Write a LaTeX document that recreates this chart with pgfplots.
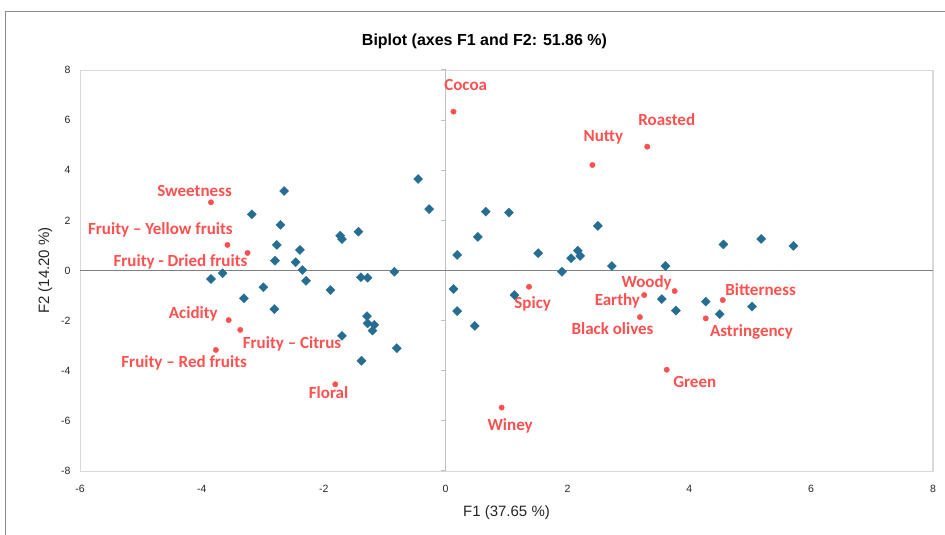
\documentclass[border=0pt]{standalone}
\usepackage{fontspec}
\setmainfont{Liberation Sans}
\newfontfamily\carlito{Carlito}
\usepackage{pgfplots}
\pgfplotsset{compat=1.18}
\definecolor{obsblue}{RGB}{38,110,145}
\definecolor{varred}{RGB}{255,80,80}
\definecolor{frame}{RGB}{217,217,217}
\begin{document}
\begin{tikzpicture}[x=1pt,y=1pt]
% picture is 945 x 535 units, axis corner at (0,0)
\clip (-80,-64) rectangle (865,471);
\draw[black!45,line width=1pt] (-74,-80) rectangle (880,459);
\begin{axis}[
    at={(0pt,0pt)}, anchor=south west,
    width=853pt, height=401pt, scale only axis,
    xmin=-6, xmax=8, ymin=-8, ymax=8,
    xtick={-6,-4,...,8}, ytick={-8,-6,...,8},
    major tick length=0pt,
    axis line style={frame},
    tick label style={font=\fontsize{10.5}{12}\selectfont, text=black!85},
    /pgf/number format/assume math mode=true,
    xticklabel style={yshift=-11pt},
    yticklabel style={xshift=-6pt},
    xlabel={F1 (37.65 \%)}, ylabel={F2 (14.20 \%)},
    label style={font=\fontsize{15}{17}\selectfont, text=black!85},
    xlabel style={yshift=-6pt},
    ylabel style={yshift=2pt},
    title={Biplot (axes F1 and F2: 51.86 \%)},
    title style={font=\fontsize{16}{18}\selectfont\bfseries, yshift=12pt, xshift=-22pt},
    clip=false,
]
\draw[frame, line width=2.5pt] (axis cs:8,-8) -- (axis cs:8,8);
\draw[black!25, line width=1.6pt] (axis cs:0,-8) -- (axis cs:0,8);
\pgfplotsinvokeforeach{-8,-6,-4,-2,0,2,4,6,8}{
  \draw[black!25, line width=1pt] (axis cs:0,#1) -- ++(-5pt,0pt);
}
\draw[black!50, line width=0.9pt] (axis cs:-6,0) -- (axis cs:8,0);

% observations
\addplot[only marks, mark=square*, mark size=3.2pt, mark options={rotate=45}, color=obsblue] coordinates {
(-3.85,-0.34) (-3.66,-0.11) (-3.31,-1.11) (-3.18,2.24) (-2.99,-0.67)
(-2.81,-1.54) (-2.80,0.39) (-2.77,1.02) (-2.71,1.82) (-2.65,3.17)
(-2.46,0.33) (-2.39,0.82) (-2.35,0.02) (-2.29,-0.41) (-1.89,-0.78)
(-1.73,1.39) (-1.70,1.25) (-1.70,-2.61) (-1.43,1.55) (-1.39,-0.27)
(-1.38,-3.60) (-1.29,-1.82) (-1.28,-0.29) (-1.28,-2.11) (-1.20,-2.40)
(-1.17,-2.17) (-0.84,-0.05) (-0.80,-3.10) (-0.45,3.65) (-0.27,2.45)
(0.13,-0.74) (0.19,0.62) (0.19,-1.62) (0.48,-2.21) (0.53,1.34)
(0.66,2.35) (1.04,2.31) (1.13,-0.98) (1.52,0.69) (1.91,-0.05)
(2.06,0.49) (2.17,0.79) (2.21,0.58) (2.50,1.78) (2.73,0.18)
(3.55,-1.14) (3.61,0.18) (3.78,-1.60) (4.27,-1.24) (4.50,-1.74)
(4.56,1.04) (5.03,-1.44) (5.18,1.26) (5.71,0.98)
};

% variables
\addplot[only marks, mark=*, mark size=2.7pt, color=varred] coordinates {
(-3.85,2.72) (-3.58,1.02) (-3.25,0.70) (-3.56,-1.98) (-3.37,-2.37)
(-3.77,-3.17) (-1.81,-4.54) (0.13,6.34) (2.41,4.21) (3.31,4.94)
(1.37,-0.65) (0.92,-5.47) (3.76,-0.82) (3.26,-0.98) (3.19,-1.86)
(4.55,-1.18) (4.27,-1.91) (3.63,-3.96)
};

\begin{scope}[every node/.style={text=varred, font=\carlito\bfseries\fontsize{17}{19}\selectfont, inner sep=0pt}]
\node at (axis cs:-4.12,3.17) {Sweetness};
\node at (axis cs:-4.68,1.62) {Fruity – Yellow fruits};
\node at (axis cs:-4.35,0.33) {Fruity - Dried fruits};
\node at (axis cs:-4.14,-1.74) {Acidity};
\node at (axis cs:-2.52,-2.91) {Fruity – Citrus};
\node at (axis cs:-4.29,-3.68) {Fruity – Red fruits};
\node at (axis cs:-1.92,-4.88) {Floral};
\node at (axis cs:0.33,7.40) {Cocoa};
\node at (axis cs:2.59,5.32) {Nutty};
\node at (axis cs:3.63,6.01) {Roasted};
\node at (axis cs:1.43,-1.34) {Spicy};
\node at (axis cs:1.06,-6.21) {Winey};
\node at (axis cs:3.30,-0.49) {Woody};
\node at (axis cs:2.82,-1.20) {Earthy};
\node at (axis cs:2.74,-2.33) {Black olives};
\node at (axis cs:5.17,-0.78) {Bitterness};
\node at (axis cs:5.02,-2.47) {Astringency};
\node at (axis cs:4.09,-4.44) {Green};
\end{scope}
\end{axis}
\end{tikzpicture}
\end{document}
